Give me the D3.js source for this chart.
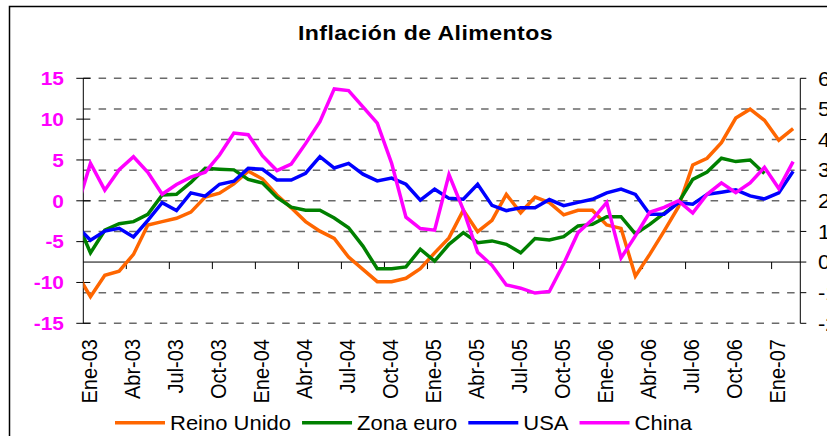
<!DOCTYPE html>
<html>
<head>
<meta charset="utf-8">
<script src="https://cdn.jsdelivr.net/npm/d3@7"></script>
<style>
  body { margin: 0; background: #fff; }
  svg { display: block; font-family: "Liberation Sans", Arial, sans-serif; }
</style>
</head>
<body>
<script>
// monthly categories (Dic-02 is only partly visible, clipped at the left axis)
var categories = ["Dic-02",
  "Ene-03","Feb-03","Mar-03","Abr-03","May-03","Jun-03","Jul-03","Ago-03","Sep-03","Oct-03","Nov-03","Dic-03",
  "Ene-04","Feb-04","Mar-04","Abr-04","May-04","Jun-04","Jul-04","Ago-04","Sep-04","Oct-04","Nov-04","Dic-04",
  "Ene-05","Feb-05","Mar-05","Abr-05","May-05","Jun-05","Jul-05","Ago-05","Sep-05","Oct-05","Nov-05","Dic-05",
  "Ene-06","Feb-06","Mar-06","Abr-06","May-06","Jun-06","Jul-06","Ago-06","Sep-06","Oct-06","Nov-06","Dic-06",
  "Ene-07","Feb-07"];

// right axis series
var reinoUnido = [-0.34,
  -1.13,-0.43,-0.30,0.25,1.21,1.32,1.43,1.63,2.12,2.25,2.55,2.97,
  2.71,2.19,1.77,1.32,1.01,0.77,0.16,-0.24,-0.64,-0.64,-0.53,-0.22,
  0.30,0.79,1.69,0.99,1.36,2.21,1.61,2.12,1.94,1.54,1.69,1.69,
  1.21,1.10,-0.46,0.25,1.01,1.80,3.17,3.39,3.90,4.70,4.99,4.63,
  3.98,4.36];
var zonaEuro = [1.39,
  0.30,1.04,1.25,1.32,1.56,2.19,2.21,2.60,3.06,3.03,3.01,2.70,
  2.58,2.11,1.79,1.69,1.69,1.44,1.12,0.52,-0.22,-0.22,-0.16,0.42,
  0.03,0.58,0.96,0.63,0.69,0.58,0.30,0.77,0.72,0.83,1.18,1.23,
  1.48,1.48,0.92,1.23,1.59,1.94,2.70,2.94,3.39,3.28,3.33,2.89];
var usa = [1.20,
  0.71,1.01,1.10,0.82,1.36,1.94,1.68,2.26,2.15,2.54,2.64,3.06,
  3.03,2.68,2.68,2.90,3.44,3.07,3.22,2.87,2.65,2.74,2.54,2.02,
  2.38,2.08,2.05,2.54,1.85,1.68,1.77,1.77,2.04,1.84,1.95,2.05,
  2.26,2.38,2.21,1.56,1.56,1.94,1.89,2.21,2.28,2.36,2.16,2.06,
  2.26,2.96];
// left axis series
var china = [-1.2,
  4.6,1.3,3.8,5.4,3.5,0.8,2.0,2.9,3.5,5.6,8.3,8.1,
  5.5,3.7,4.5,7.0,9.7,13.7,13.5,11.5,9.5,4.6,-2.0,-3.4,
  -3.6,3.2,-1.1,-6.3,-7.9,-10.3,-10.7,-11.3,-11.1,-7.7,-3.9,-2.3,
  -0.2,-7.0,-4.3,-1.4,-0.8,0.0,-1.5,0.8,2.2,1.0,2.2,4.1,
  1.5,4.8];

var leftTicks = [15, 10, 5, 0, -5, -10, -15];
var rightTicks = [6, 5, 4, 3, 2, 1, 0, -1, -2];
var xTickLabels = ["Ene-03","Abr-03","Jul-03","Oct-03","Ene-04","Abr-04","Jul-04","Oct-04",
  "Ene-05","Abr-05","Jul-05","Oct-05","Ene-06","Abr-06","Jul-06","Oct-06","Ene-07"];

var title = "Inflación de Alimentos";
var seriesNames = ["Reino Unido", "Zona euro", "USA", "China"];
var seriesColors = ["#ff6600", "#008000", "#0000ff", "#ff00ff"];
var seriesData = [reinoUnido, zonaEuro, usa, china];
var seriesAxis = ["right", "right", "right", "left"];

var W = 827, H = 436;
var plot = {left: 83.3, right: 800.3, top: 78.3, bottom: 323.3};
var sx = 1.1; // text in the picture is a little wider than tall

var svg = d3.select("body").append("svg")
    .attr("width", W)
    .attr("height", H);

svg.append("rect")
    .attr("x", 0).attr("y", 0).attr("width", W).attr("height", H)
    .attr("fill", "#fff");

// chart border (runs off the right and bottom edges)
svg.append("rect")
    .attr("x", 9.5).attr("y", 6.5)
    .attr("width", W + 10).attr("height", H + 10)
    .attr("fill", "none")
    .attr("stroke", "#000")
    .attr("stroke-width", 1.5);

var x = d3.scaleLinear()
    .domain([0.5, categories.length - 0.5])
    .range([plot.left, plot.right]);
var yR = d3.scaleLinear().domain([-2, 6]).range([plot.bottom, plot.top]);
var yL = d3.scaleLinear().domain([-15, 15]).range([plot.bottom, plot.top]);

// gridlines (right axis values), zero is the solid category axis
svg.append("g").selectAll("line")
  .data(rightTicks.filter(function(d) { return d !== 0; }))
  .join("line")
    .attr("x1", plot.left).attr("x2", plot.right)
    .attr("y1", function(d) { return yR(d); })
    .attr("y2", function(d) { return yR(d); })
    .attr("stroke", "#6a6a6a")
    .attr("stroke-width", 1.4)
    .attr("stroke-dasharray", "7.5,7.8");

// category axis on right-axis zero
var xAxisY = yR(0);
svg.append("line")
    .attr("x1", plot.left).attr("x2", plot.right)
    .attr("y1", xAxisY).attr("y2", xAxisY)
    .attr("stroke", "#000").attr("stroke-width", 1);

var tickIdx = d3.range(1, categories.length - 1, 3);
svg.append("g").selectAll("line")
  .data(tickIdx.slice(1))
  .join("line")
    .attr("x1", function(d) { return x(d - 0.5); })
    .attr("x2", function(d) { return x(d - 0.5); })
    .attr("y1", xAxisY).attr("y2", xAxisY + 7)
    .attr("stroke", "#000").attr("stroke-width", 1);

svg.append("g").selectAll("text")
  .data(xTickLabels)
  .join("text")
    .attr("transform", function(d) {
      var i = categories.indexOf(d);
      return "translate(" + (x(i) - 1.5) + ",339) scale(" + sx + ",1) rotate(-90)";
    })
    .attr("dy", "0.35em")
    .attr("text-anchor", "end")
    .attr("font-size", 20)
    .attr("fill", "#000")
    .text(function(d) { return d; });

// left axis (China)
svg.append("line")
    .attr("x1", plot.left).attr("x2", plot.left)
    .attr("y1", plot.top).attr("y2", plot.bottom)
    .attr("stroke", "#000").attr("stroke-width", 1);
svg.append("g").selectAll("line")
  .data(leftTicks)
  .join("line")
    .attr("x1", plot.left - 7).attr("x2", plot.left + 7)
    .attr("y1", function(d) { return yL(d); })
    .attr("y2", function(d) { return yL(d); })
    .attr("stroke", "#000").attr("stroke-width", 1);
svg.append("g").selectAll("text")
  .data(leftTicks)
  .join("text")
    .attr("transform", function(d) { return "translate(64," + yL(d) + ") scale(" + sx + ",1)"; })
    .attr("dy", "0.36em")
    .attr("text-anchor", "end")
    .attr("font-size", 19)
    .attr("font-weight", "bold")
    .attr("fill", "#ff00ff")
    .text(function(d) { return d; });

// right axis
svg.append("line")
    .attr("x1", plot.right).attr("x2", plot.right)
    .attr("y1", plot.top).attr("y2", plot.bottom)
    .attr("stroke", "#000").attr("stroke-width", 1);
svg.append("g").selectAll("line")
  .data(rightTicks)
  .join("line")
    .attr("x1", plot.right).attr("x2", plot.right + 6)
    .attr("y1", function(d) { return yR(d); })
    .attr("y2", function(d) { return yR(d); })
    .attr("stroke", "#000").attr("stroke-width", 1);
svg.append("g").selectAll("text")
  .data(rightTicks)
  .join("text")
    .attr("transform", function(d) { return "translate(818," + yR(d) + ") scale(" + sx + ",1)"; })
    .attr("dy", "0.36em")
    .attr("text-anchor", "start")
    .attr("font-size", 20)
    .attr("fill", "#000")
    .text(function(d) { return d; });

// series lines
svg.append("clipPath").attr("id", "plotclip")
  .append("rect")
    .attr("x", plot.left).attr("y", 0)
    .attr("width", plot.right - plot.left).attr("height", H);

var lines = svg.append("g").attr("clip-path", "url(#plotclip)");
seriesData.forEach(function(vals, k) {
  var ys = seriesAxis[k] === "left" ? yL : yR;
  var line = d3.line()
      .x(function(d, i) { return x(i); })
      .y(function(d) { return ys(d); });
  lines.append("path")
      .attr("d", line(vals))
      .attr("fill", "none")
      .attr("stroke", seriesColors[k])
      .attr("stroke-width", 3.5)
      .attr("stroke-linejoin", "miter");
});

// title
svg.append("text")
    .attr("transform", "translate(425.5,39.5) scale(" + sx + ",1)")
    .attr("text-anchor", "middle")
    .attr("font-size", 21)
    .attr("font-weight", "bold")
    .attr("letter-spacing", 0.4)
    .attr("fill", "#000")
    .text(title);

// legend
var legendY = 422.7;
var lx = 115;
seriesNames.forEach(function(name, k) {
  svg.append("line")
      .attr("x1", lx).attr("x2", lx + 50)
      .attr("y1", legendY).attr("y2", legendY)
      .attr("stroke", seriesColors[k])
      .attr("stroke-width", 3.5);
  var t = svg.append("text")
      .attr("transform", "translate(" + (lx + 55) + "," + (legendY + 6.8) + ") scale(" + sx + ",1)")
      .attr("font-size", 20)
      .attr("fill", "#000")
      .text(name);
  lx = lx + 55 + t.node().getComputedTextLength() * sx + 11;
});
</script>
</body>
</html>
